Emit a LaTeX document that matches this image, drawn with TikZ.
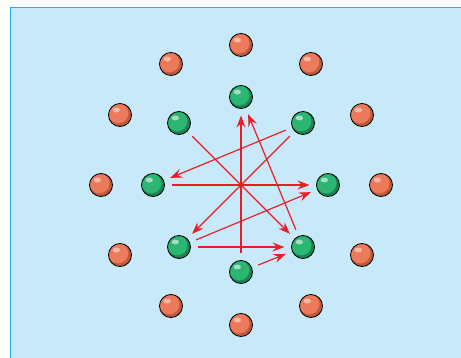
\documentclass[tikz,border=0pt]{standalone}
\usetikzlibrary{arrows.meta}

\definecolor{bgfill}{HTML}{C7E9F9}
\definecolor{bgline}{HTML}{1FB0EC}
\definecolor{arrred}{HTML}{EC1C24}
\definecolor{org}{HTML}{EE7A5C}
\definecolor{orgdark}{HTML}{BE5A40}
\definecolor{orglight}{HTML}{F9B8A4}
\definecolor{grn}{HTML}{2BB673}
\definecolor{grndark}{HTML}{1C8553}
\definecolor{grnlight}{HTML}{A6DCC0}

\begin{document}
\begin{tikzpicture}[x=0.03cm, y=0.03cm]
		\tikzset{ball/.style={circle, draw=black, line width=0.7pt, minimum size=0.69cm, inner sep=0pt},
			rb/.style={ball, fill=orgdark, path picture={
				\fill[org] ([shift={(-0.05cm,0.05cm)}]path picture bounding box.center) circle (0.3cm);
				\fill[orglight] ([shift={(-0.11cm,0.15cm)}]path picture bounding box.center) ellipse (0.11cm and 0.075cm);}},
			gb/.style={ball, fill=grndark, path picture={
				\fill[grn] ([shift={(-0.05cm,0.05cm)}]path picture bounding box.center) circle (0.3cm);
				\fill[grnlight] ([shift={(-0.11cm,0.15cm)}]path picture bounding box.center) ellipse (0.11cm and 0.075cm);}},
			arr/.style={arrred, line width=1pt, -{Stealth[length=3.6mm, width=2.7mm, inset=1.3mm]},
				shorten <=0.2cm, shorten >=0.2cm}};

		\useasboundingbox (-241, -172) rectangle (220, 185);
		\draw[bgline, fill=bgfill, line width=0.8pt] (-231, -180) rectangle (226, 178);

		% outer ring
		\node[rb] (r1) at (0, 140) {};
		\node[rb] (r2) at (70, 121) {};
		\node[rb] (r3) at (121, 70) {};
		\node[rb] (r4) at (140, 0) {};
		\node[rb] (r5) at (121, -70) {};
		\node[rb] (r6) at (70, -121) {};
		\node[rb] (r7) at (0, -140) {};
		\node[rb] (r8) at (-70, -121) {};
		\node[rb] (r9) at (-121, -70) {};
		\node[rb] (r10) at (-140, 0) {};
		\node[rb] (r11) at (-121, 70) {};
		\node[rb] (r12) at (-70, 121) {};

		% inner ring
		\node[gb] (gn) at (0, 88) {};
		\node[gb] (gne) at (62, 62) {};
		\node[gb] (ge) at (87, 0) {};
		\node[gb] (gse) at (62, -62) {};
		\node[gb] (gs) at (0, -87) {};
		\node[gb] (gsw) at (-62, -62) {};
		\node[gb] (gw) at (-88, 0) {};
		\node[gb] (gnw) at (-62, 62) {};

		\draw[arr] (gnw) to (gse);
		\draw[arr] (gne) to (gw);
		\draw[arr] (gne) to (gsw);

		\draw[arr] (gw) to (ge);

		\draw[arr] (gsw) to (ge);
		\draw[arr] (gsw) to (gse);

		\draw[arr] (gs) to (gn);
		\draw[arr] (gse) to (gn);
		\draw[arr] (gs) to (gse);

	\end{tikzpicture}
\end{document}
